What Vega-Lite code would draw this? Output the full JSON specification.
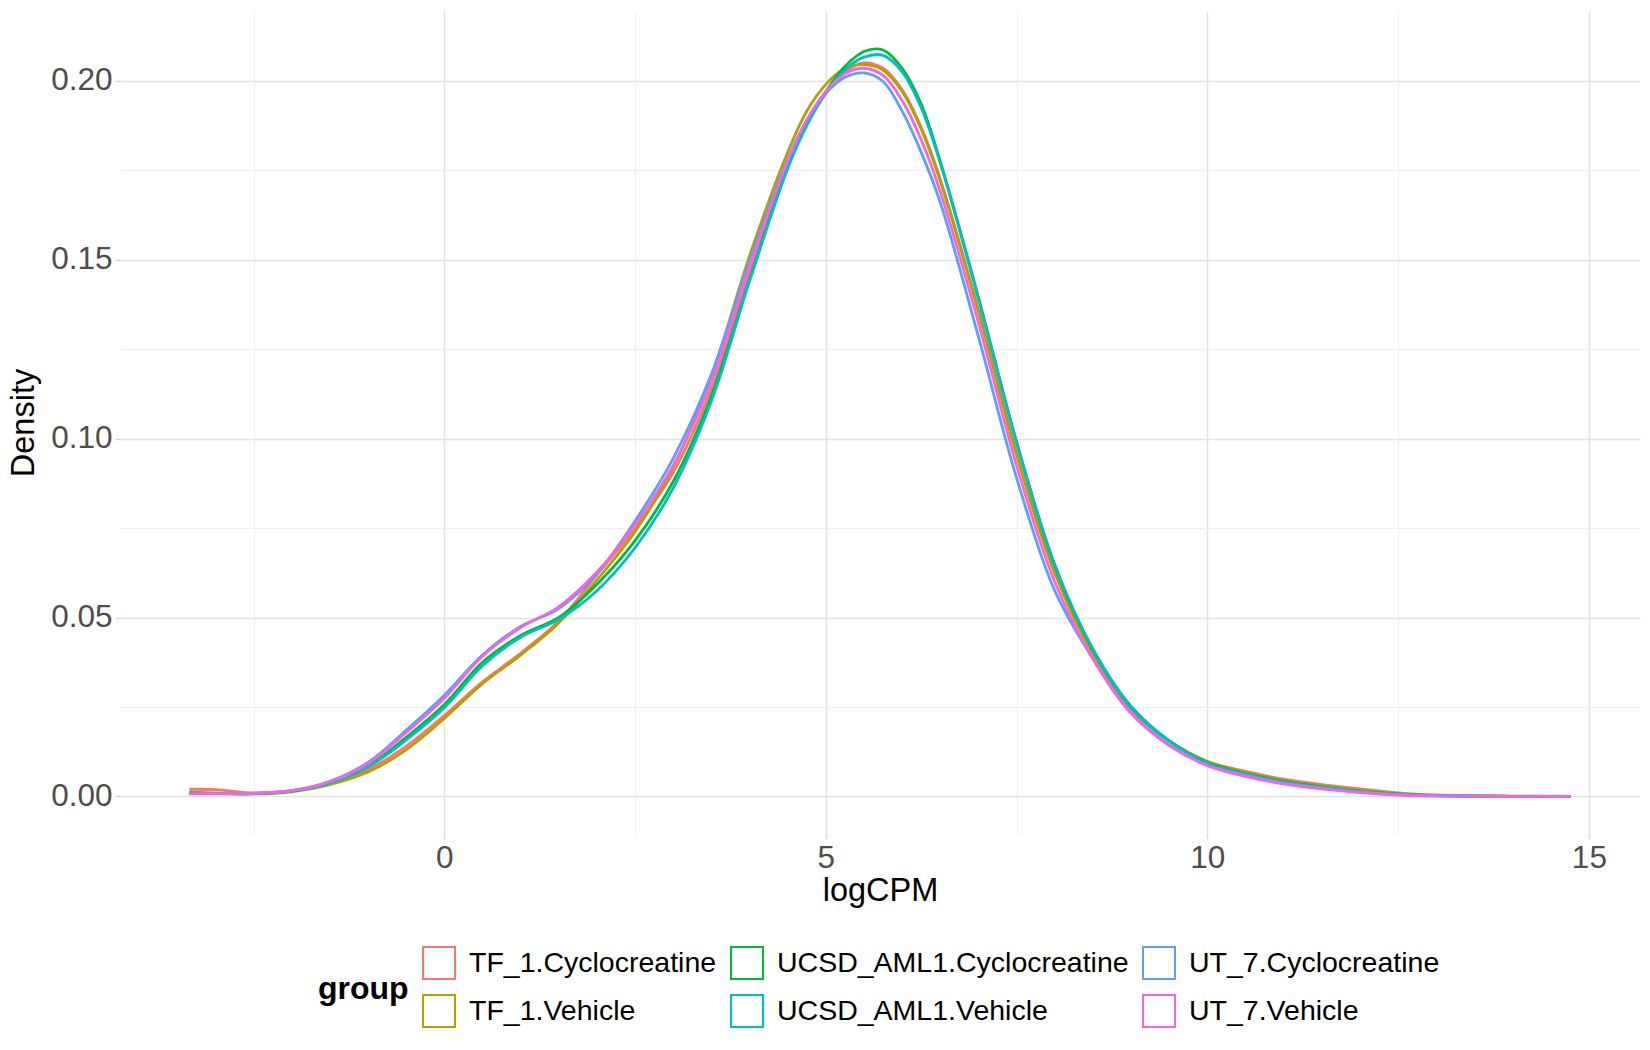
{
  "$schema": "https://vega.github.io/schema/vega-lite/v6.json",
  "width": 1520,
  "height": 823,
  "autosize": {"type": "none"},
  "padding": {"left": 120, "top": 11, "right": 10, "bottom": 216},
  "background": "white",
  "config": {
    "view": {"stroke": null},
    "font": "Liberation Sans"
  },
  "data": {
    "values": [
      {"group":"TF_1.Cyclocreatine","logCPM":-3.34,"density":0.0020},{"group":"TF_1.Cyclocreatine","logCPM":-3,"density":0.0019},{"group":"TF_1.Cyclocreatine","logCPM":-2.5,"density":0.0009},{"group":"TF_1.Cyclocreatine","logCPM":-2,"density":0.0016},{"group":"TF_1.Cyclocreatine","logCPM":-1.5,"density":0.0036},{"group":"TF_1.Cyclocreatine","logCPM":-1,"density":0.0075},{"group":"TF_1.Cyclocreatine","logCPM":-0.5,"density":0.0140},{"group":"TF_1.Cyclocreatine","logCPM":0,"density":0.0226},{"group":"TF_1.Cyclocreatine","logCPM":0.5,"density":0.0320},{"group":"TF_1.Cyclocreatine","logCPM":1,"density":0.0400},{"group":"TF_1.Cyclocreatine","logCPM":1.5,"density":0.0490},{"group":"TF_1.Cyclocreatine","logCPM":2,"density":0.0620},{"group":"TF_1.Cyclocreatine","logCPM":2.5,"density":0.0750},{"group":"TF_1.Cyclocreatine","logCPM":3,"density":0.0905},{"group":"TF_1.Cyclocreatine","logCPM":3.5,"density":0.1140},{"group":"TF_1.Cyclocreatine","logCPM":4,"density":0.1465},{"group":"TF_1.Cyclocreatine","logCPM":4.5,"density":0.1765},{"group":"TF_1.Cyclocreatine","logCPM":4.75,"density":0.1880},{"group":"TF_1.Cyclocreatine","logCPM":5,"density":0.1965},{"group":"TF_1.Cyclocreatine","logCPM":5.25,"density":0.2025},{"group":"TF_1.Cyclocreatine","logCPM":5.5,"density":0.2050},{"group":"TF_1.Cyclocreatine","logCPM":5.75,"density":0.2035},{"group":"TF_1.Cyclocreatine","logCPM":6,"density":0.1975},{"group":"TF_1.Cyclocreatine","logCPM":6.25,"density":0.1870},{"group":"TF_1.Cyclocreatine","logCPM":6.5,"density":0.1725},{"group":"TF_1.Cyclocreatine","logCPM":7,"density":0.1360},{"group":"TF_1.Cyclocreatine","logCPM":7.5,"density":0.0960},{"group":"TF_1.Cyclocreatine","logCPM":8,"density":0.0625},{"group":"TF_1.Cyclocreatine","logCPM":8.5,"density":0.0400},{"group":"TF_1.Cyclocreatine","logCPM":9,"density":0.0245},{"group":"TF_1.Cyclocreatine","logCPM":9.5,"density":0.0155},{"group":"TF_1.Cyclocreatine","logCPM":10,"density":0.0097},{"group":"TF_1.Cyclocreatine","logCPM":10.5,"density":0.0070},{"group":"TF_1.Cyclocreatine","logCPM":11,"density":0.0048},{"group":"TF_1.Cyclocreatine","logCPM":11.5,"density":0.0033},{"group":"TF_1.Cyclocreatine","logCPM":12,"density":0.0021},{"group":"TF_1.Cyclocreatine","logCPM":12.5,"density":0.0010},{"group":"TF_1.Cyclocreatine","logCPM":13,"density":0.0004},{"group":"TF_1.Cyclocreatine","logCPM":13.5,"density":0.0002},{"group":"TF_1.Cyclocreatine","logCPM":14,"density":0.0001},{"group":"TF_1.Cyclocreatine","logCPM":14.76,"density":0.0000},
      {"group":"TF_1.Vehicle","logCPM":-3.34,"density":0.0012},{"group":"TF_1.Vehicle","logCPM":-3,"density":0.0010},{"group":"TF_1.Vehicle","logCPM":-2.5,"density":0.0007},{"group":"TF_1.Vehicle","logCPM":-2,"density":0.0013},{"group":"TF_1.Vehicle","logCPM":-1.5,"density":0.0033},{"group":"TF_1.Vehicle","logCPM":-1,"density":0.0068},{"group":"TF_1.Vehicle","logCPM":-0.5,"density":0.0130},{"group":"TF_1.Vehicle","logCPM":0,"density":0.0218},{"group":"TF_1.Vehicle","logCPM":0.5,"density":0.0315},{"group":"TF_1.Vehicle","logCPM":1,"density":0.0395},{"group":"TF_1.Vehicle","logCPM":1.5,"density":0.0485},{"group":"TF_1.Vehicle","logCPM":2,"density":0.0605},{"group":"TF_1.Vehicle","logCPM":2.5,"density":0.0740},{"group":"TF_1.Vehicle","logCPM":3,"density":0.0920},{"group":"TF_1.Vehicle","logCPM":3.5,"density":0.1175},{"group":"TF_1.Vehicle","logCPM":4,"density":0.1510},{"group":"TF_1.Vehicle","logCPM":4.5,"density":0.1800},{"group":"TF_1.Vehicle","logCPM":4.75,"density":0.1915},{"group":"TF_1.Vehicle","logCPM":5,"density":0.1990},{"group":"TF_1.Vehicle","logCPM":5.25,"density":0.2035},{"group":"TF_1.Vehicle","logCPM":5.5,"density":0.2045},{"group":"TF_1.Vehicle","logCPM":5.75,"density":0.2030},{"group":"TF_1.Vehicle","logCPM":6,"density":0.1970},{"group":"TF_1.Vehicle","logCPM":6.25,"density":0.1865},{"group":"TF_1.Vehicle","logCPM":6.5,"density":0.1720},{"group":"TF_1.Vehicle","logCPM":7,"density":0.1355},{"group":"TF_1.Vehicle","logCPM":7.5,"density":0.0955},{"group":"TF_1.Vehicle","logCPM":8,"density":0.0625},{"group":"TF_1.Vehicle","logCPM":8.5,"density":0.0400},{"group":"TF_1.Vehicle","logCPM":9,"density":0.0248},{"group":"TF_1.Vehicle","logCPM":9.5,"density":0.0155},{"group":"TF_1.Vehicle","logCPM":10,"density":0.0098},{"group":"TF_1.Vehicle","logCPM":10.5,"density":0.0068},{"group":"TF_1.Vehicle","logCPM":11,"density":0.0045},{"group":"TF_1.Vehicle","logCPM":11.5,"density":0.0030},{"group":"TF_1.Vehicle","logCPM":12,"density":0.0018},{"group":"TF_1.Vehicle","logCPM":12.5,"density":0.0008},{"group":"TF_1.Vehicle","logCPM":13,"density":0.0003},{"group":"TF_1.Vehicle","logCPM":13.5,"density":0.0001},{"group":"TF_1.Vehicle","logCPM":14,"density":0.0000},{"group":"TF_1.Vehicle","logCPM":14.76,"density":0.0000},
      {"group":"UCSD_AML1.Cyclocreatine","logCPM":-3.34,"density":0.0010},{"group":"UCSD_AML1.Cyclocreatine","logCPM":-3,"density":0.0008},{"group":"UCSD_AML1.Cyclocreatine","logCPM":-2.5,"density":0.0008},{"group":"UCSD_AML1.Cyclocreatine","logCPM":-2,"density":0.0015},{"group":"UCSD_AML1.Cyclocreatine","logCPM":-1.5,"density":0.0038},{"group":"UCSD_AML1.Cyclocreatine","logCPM":-1,"density":0.0085},{"group":"UCSD_AML1.Cyclocreatine","logCPM":-0.5,"density":0.0165},{"group":"UCSD_AML1.Cyclocreatine","logCPM":0,"density":0.0257},{"group":"UCSD_AML1.Cyclocreatine","logCPM":0.5,"density":0.0375},{"group":"UCSD_AML1.Cyclocreatine","logCPM":1,"density":0.0450},{"group":"UCSD_AML1.Cyclocreatine","logCPM":1.5,"density":0.0500},{"group":"UCSD_AML1.Cyclocreatine","logCPM":2,"density":0.0593},{"group":"UCSD_AML1.Cyclocreatine","logCPM":2.5,"density":0.0715},{"group":"UCSD_AML1.Cyclocreatine","logCPM":3,"density":0.0880},{"group":"UCSD_AML1.Cyclocreatine","logCPM":3.5,"density":0.1120},{"group":"UCSD_AML1.Cyclocreatine","logCPM":4,"density":0.1445},{"group":"UCSD_AML1.Cyclocreatine","logCPM":4.5,"density":0.1760},{"group":"UCSD_AML1.Cyclocreatine","logCPM":4.75,"density":0.1880},{"group":"UCSD_AML1.Cyclocreatine","logCPM":5,"density":0.1970},{"group":"UCSD_AML1.Cyclocreatine","logCPM":5.25,"density":0.2040},{"group":"UCSD_AML1.Cyclocreatine","logCPM":5.5,"density":0.2082},{"group":"UCSD_AML1.Cyclocreatine","logCPM":5.75,"density":0.2086},{"group":"UCSD_AML1.Cyclocreatine","logCPM":6,"density":0.2035},{"group":"UCSD_AML1.Cyclocreatine","logCPM":6.25,"density":0.1935},{"group":"UCSD_AML1.Cyclocreatine","logCPM":6.5,"density":0.1775},{"group":"UCSD_AML1.Cyclocreatine","logCPM":7,"density":0.1395},{"group":"UCSD_AML1.Cyclocreatine","logCPM":7.5,"density":0.0990},{"group":"UCSD_AML1.Cyclocreatine","logCPM":8,"density":0.0645},{"group":"UCSD_AML1.Cyclocreatine","logCPM":8.5,"density":0.0410},{"group":"UCSD_AML1.Cyclocreatine","logCPM":9,"density":0.0250},{"group":"UCSD_AML1.Cyclocreatine","logCPM":9.5,"density":0.0155},{"group":"UCSD_AML1.Cyclocreatine","logCPM":10,"density":0.0095},{"group":"UCSD_AML1.Cyclocreatine","logCPM":10.5,"density":0.0064},{"group":"UCSD_AML1.Cyclocreatine","logCPM":11,"density":0.0042},{"group":"UCSD_AML1.Cyclocreatine","logCPM":11.5,"density":0.0027},{"group":"UCSD_AML1.Cyclocreatine","logCPM":12,"density":0.0015},{"group":"UCSD_AML1.Cyclocreatine","logCPM":12.5,"density":0.0007},{"group":"UCSD_AML1.Cyclocreatine","logCPM":13,"density":0.0002},{"group":"UCSD_AML1.Cyclocreatine","logCPM":13.5,"density":0.0001},{"group":"UCSD_AML1.Cyclocreatine","logCPM":14,"density":0.0000},{"group":"UCSD_AML1.Cyclocreatine","logCPM":14.76,"density":0.0000},
      {"group":"UCSD_AML1.Vehicle","logCPM":-3.34,"density":0.0009},{"group":"UCSD_AML1.Vehicle","logCPM":-3,"density":0.0008},{"group":"UCSD_AML1.Vehicle","logCPM":-2.5,"density":0.0008},{"group":"UCSD_AML1.Vehicle","logCPM":-2,"density":0.0015},{"group":"UCSD_AML1.Vehicle","logCPM":-1.5,"density":0.0037},{"group":"UCSD_AML1.Vehicle","logCPM":-1,"density":0.0082},{"group":"UCSD_AML1.Vehicle","logCPM":-0.5,"density":0.0158},{"group":"UCSD_AML1.Vehicle","logCPM":0,"density":0.0248},{"group":"UCSD_AML1.Vehicle","logCPM":0.5,"density":0.0365},{"group":"UCSD_AML1.Vehicle","logCPM":1,"density":0.0445},{"group":"UCSD_AML1.Vehicle","logCPM":1.5,"density":0.0495},{"group":"UCSD_AML1.Vehicle","logCPM":2,"density":0.0575},{"group":"UCSD_AML1.Vehicle","logCPM":2.5,"density":0.0695},{"group":"UCSD_AML1.Vehicle","logCPM":3,"density":0.0862},{"group":"UCSD_AML1.Vehicle","logCPM":3.5,"density":0.1105},{"group":"UCSD_AML1.Vehicle","logCPM":4,"density":0.1440},{"group":"UCSD_AML1.Vehicle","logCPM":4.5,"density":0.1755},{"group":"UCSD_AML1.Vehicle","logCPM":4.75,"density":0.1875},{"group":"UCSD_AML1.Vehicle","logCPM":5,"density":0.1965},{"group":"UCSD_AML1.Vehicle","logCPM":5.25,"density":0.2030},{"group":"UCSD_AML1.Vehicle","logCPM":5.5,"density":0.2066},{"group":"UCSD_AML1.Vehicle","logCPM":5.75,"density":0.2071},{"group":"UCSD_AML1.Vehicle","logCPM":6,"density":0.2025},{"group":"UCSD_AML1.Vehicle","logCPM":6.25,"density":0.1925},{"group":"UCSD_AML1.Vehicle","logCPM":6.5,"density":0.1770},{"group":"UCSD_AML1.Vehicle","logCPM":7,"density":0.1390},{"group":"UCSD_AML1.Vehicle","logCPM":7.5,"density":0.0990},{"group":"UCSD_AML1.Vehicle","logCPM":8,"density":0.0648},{"group":"UCSD_AML1.Vehicle","logCPM":8.5,"density":0.0412},{"group":"UCSD_AML1.Vehicle","logCPM":9,"density":0.0252},{"group":"UCSD_AML1.Vehicle","logCPM":9.5,"density":0.0155},{"group":"UCSD_AML1.Vehicle","logCPM":10,"density":0.0093},{"group":"UCSD_AML1.Vehicle","logCPM":10.5,"density":0.0062},{"group":"UCSD_AML1.Vehicle","logCPM":11,"density":0.0040},{"group":"UCSD_AML1.Vehicle","logCPM":11.5,"density":0.0025},{"group":"UCSD_AML1.Vehicle","logCPM":12,"density":0.0014},{"group":"UCSD_AML1.Vehicle","logCPM":12.5,"density":0.0006},{"group":"UCSD_AML1.Vehicle","logCPM":13,"density":0.0002},{"group":"UCSD_AML1.Vehicle","logCPM":13.5,"density":0.0001},{"group":"UCSD_AML1.Vehicle","logCPM":14,"density":0.0000},{"group":"UCSD_AML1.Vehicle","logCPM":14.76,"density":0.0000},
      {"group":"UT_7.Cyclocreatine","logCPM":-3.34,"density":0.0010},{"group":"UT_7.Cyclocreatine","logCPM":-3,"density":0.0008},{"group":"UT_7.Cyclocreatine","logCPM":-2.5,"density":0.0009},{"group":"UT_7.Cyclocreatine","logCPM":-2,"density":0.0016},{"group":"UT_7.Cyclocreatine","logCPM":-1.5,"density":0.0042},{"group":"UT_7.Cyclocreatine","logCPM":-1,"density":0.0095},{"group":"UT_7.Cyclocreatine","logCPM":-0.5,"density":0.0185},{"group":"UT_7.Cyclocreatine","logCPM":0,"density":0.0283},{"group":"UT_7.Cyclocreatine","logCPM":0.5,"density":0.0395},{"group":"UT_7.Cyclocreatine","logCPM":1,"density":0.0475},{"group":"UT_7.Cyclocreatine","logCPM":1.5,"density":0.0525},{"group":"UT_7.Cyclocreatine","logCPM":2,"density":0.0622},{"group":"UT_7.Cyclocreatine","logCPM":2.5,"density":0.0770},{"group":"UT_7.Cyclocreatine","logCPM":3,"density":0.0945},{"group":"UT_7.Cyclocreatine","logCPM":3.5,"density":0.1180},{"group":"UT_7.Cyclocreatine","logCPM":4,"density":0.1495},{"group":"UT_7.Cyclocreatine","logCPM":4.5,"density":0.1780},{"group":"UT_7.Cyclocreatine","logCPM":4.75,"density":0.1890},{"group":"UT_7.Cyclocreatine","logCPM":5,"density":0.1965},{"group":"UT_7.Cyclocreatine","logCPM":5.25,"density":0.2010},{"group":"UT_7.Cyclocreatine","logCPM":5.5,"density":0.2022},{"group":"UT_7.Cyclocreatine","logCPM":5.75,"density":0.1998},{"group":"UT_7.Cyclocreatine","logCPM":6,"density":0.1915},{"group":"UT_7.Cyclocreatine","logCPM":6.25,"density":0.1800},{"group":"UT_7.Cyclocreatine","logCPM":6.5,"density":0.1660},{"group":"UT_7.Cyclocreatine","logCPM":7,"density":0.1285},{"group":"UT_7.Cyclocreatine","logCPM":7.5,"density":0.0890},{"group":"UT_7.Cyclocreatine","logCPM":8,"density":0.0575},{"group":"UT_7.Cyclocreatine","logCPM":8.5,"density":0.0385},{"group":"UT_7.Cyclocreatine","logCPM":9,"density":0.0235},{"group":"UT_7.Cyclocreatine","logCPM":9.5,"density":0.0145},{"group":"UT_7.Cyclocreatine","logCPM":10,"density":0.0088},{"group":"UT_7.Cyclocreatine","logCPM":10.5,"density":0.0060},{"group":"UT_7.Cyclocreatine","logCPM":11,"density":0.0038},{"group":"UT_7.Cyclocreatine","logCPM":11.5,"density":0.0024},{"group":"UT_7.Cyclocreatine","logCPM":12,"density":0.0012},{"group":"UT_7.Cyclocreatine","logCPM":12.5,"density":0.0005},{"group":"UT_7.Cyclocreatine","logCPM":13,"density":0.0002},{"group":"UT_7.Cyclocreatine","logCPM":13.5,"density":0.0001},{"group":"UT_7.Cyclocreatine","logCPM":14,"density":0.0000},{"group":"UT_7.Cyclocreatine","logCPM":14.76,"density":0.0000},
      {"group":"UT_7.Vehicle","logCPM":-3.34,"density":0.0007},{"group":"UT_7.Vehicle","logCPM":-3,"density":0.0007},{"group":"UT_7.Vehicle","logCPM":-2.5,"density":0.0009},{"group":"UT_7.Vehicle","logCPM":-2,"density":0.0016},{"group":"UT_7.Vehicle","logCPM":-1.5,"density":0.0041},{"group":"UT_7.Vehicle","logCPM":-1,"density":0.0092},{"group":"UT_7.Vehicle","logCPM":-0.5,"density":0.0178},{"group":"UT_7.Vehicle","logCPM":0,"density":0.0274},{"group":"UT_7.Vehicle","logCPM":0.5,"density":0.0392},{"group":"UT_7.Vehicle","logCPM":1,"density":0.0472},{"group":"UT_7.Vehicle","logCPM":1.5,"density":0.0530},{"group":"UT_7.Vehicle","logCPM":2,"density":0.0627},{"group":"UT_7.Vehicle","logCPM":2.5,"density":0.0760},{"group":"UT_7.Vehicle","logCPM":3,"density":0.0925},{"group":"UT_7.Vehicle","logCPM":3.5,"density":0.1160},{"group":"UT_7.Vehicle","logCPM":4,"density":0.1480},{"group":"UT_7.Vehicle","logCPM":4.5,"density":0.1775},{"group":"UT_7.Vehicle","logCPM":4.75,"density":0.1890},{"group":"UT_7.Vehicle","logCPM":5,"density":0.1970},{"group":"UT_7.Vehicle","logCPM":5.25,"density":0.2020},{"group":"UT_7.Vehicle","logCPM":5.5,"density":0.2035},{"group":"UT_7.Vehicle","logCPM":5.75,"density":0.2015},{"group":"UT_7.Vehicle","logCPM":6,"density":0.1945},{"group":"UT_7.Vehicle","logCPM":6.25,"density":0.1835},{"group":"UT_7.Vehicle","logCPM":6.5,"density":0.1690},{"group":"UT_7.Vehicle","logCPM":7,"density":0.1325},{"group":"UT_7.Vehicle","logCPM":7.5,"density":0.0925},{"group":"UT_7.Vehicle","logCPM":8,"density":0.0600},{"group":"UT_7.Vehicle","logCPM":8.5,"density":0.0385},{"group":"UT_7.Vehicle","logCPM":9,"density":0.0232},{"group":"UT_7.Vehicle","logCPM":9.5,"density":0.0142},{"group":"UT_7.Vehicle","logCPM":10,"density":0.0086},{"group":"UT_7.Vehicle","logCPM":10.5,"density":0.0056},{"group":"UT_7.Vehicle","logCPM":11,"density":0.0035},{"group":"UT_7.Vehicle","logCPM":11.5,"density":0.0021},{"group":"UT_7.Vehicle","logCPM":12,"density":0.0011},{"group":"UT_7.Vehicle","logCPM":12.5,"density":0.0004},{"group":"UT_7.Vehicle","logCPM":13,"density":0.0001},{"group":"UT_7.Vehicle","logCPM":13.5,"density":0.0001},{"group":"UT_7.Vehicle","logCPM":14,"density":0.0000},{"group":"UT_7.Vehicle","logCPM":14.76,"density":0.0000}
    ]
  },
  "mark": {"type": "line", "interpolate": "catmull-rom", "strokeWidth": 2.8},
  "encoding": {
    "x": {
      "field": "logCPM",
      "type": "quantitative",
      "title": "logCPM",
      "scale": {"domain": [-4.25, 15.67], "nice": false, "zero": false},
      "axis": {
        "values": [-2.5, 0, 2.5, 5, 7.5, 10, 12.5, 15],
        "labelExpr": "datum.value % 5 == 0 ? format(datum.value, 'd') : ''",
        "domain": false,
        "grid": true,
        "gridColor": {"condition": {"test": "datum.value % 5 == 0", "value": "#E3E3E3"}, "value": "#EFEFEF"},
        "gridWidth": {"condition": {"test": "datum.value % 5 == 0", "value": 1.6}, "value": 1},
        "ticks": true,
        "tickSize": 5,
        "tickColor": "#D6D6D6",
        "tickWidth": 1.5,
        "tickOpacity": {"condition": {"test": "datum.value % 5 == 0", "value": 1}, "value": 0},
        "labelFont": "Liberation Sans",
        "labelFontSize": 31.5,
        "labelColor": "#4D4D4D",
        "labelBaseline": "alphabetic",
        "labelPadding": 28,
        "labelFlush": false,
        "titleFont": "Liberation Sans",
        "titleFontSize": 32.5,
        "titleFontWeight": "normal",
        "titleColor": "black",
        "titleBaseline": "alphabetic",
        "titleY": 66
      }
    },
    "y": {
      "field": "density",
      "type": "quantitative",
      "title": "Density",
      "scale": {"domain": [-0.0105, 0.2195], "nice": false, "zero": false},
      "axis": {
        "values": [0, 0.025, 0.05, 0.075, 0.1, 0.125, 0.15, 0.175, 0.2],
        "labelExpr": "round(datum.value * 1000) % 50 == 0 ? format(datum.value, '.2f') : ''",
        "domain": false,
        "grid": true,
        "gridColor": {"condition": {"test": "round(datum.value * 1000) % 50 == 0", "value": "#E3E3E3"}, "value": "#EFEFEF"},
        "gridWidth": {"condition": {"test": "round(datum.value * 1000) % 50 == 0", "value": 1.6}, "value": 1},
        "ticks": true,
        "tickSize": 5,
        "tickColor": "#D6D6D6",
        "tickWidth": 1.5,
        "tickOpacity": {"condition": {"test": "round(datum.value * 1000) % 50 == 0", "value": 1}, "value": 0},
        "labelFont": "Liberation Sans",
        "labelFontSize": 31.5,
        "labelColor": "#4D4D4D",
        "labelPadding": 3,
        "labelFlush": false,
        "titleFont": "Liberation Sans",
        "titleFontSize": 32.5,
        "titleFontWeight": "normal",
        "titleColor": "black",
        "titleBaseline": "alphabetic",
        "titleX": -87
      }
    },
    "color": {
      "field": "group",
      "type": "nominal",
      "scale": {
        "domain": ["TF_1.Cyclocreatine", "UCSD_AML1.Cyclocreatine", "UT_7.Cyclocreatine", "TF_1.Vehicle", "UCSD_AML1.Vehicle", "UT_7.Vehicle"],
        "range": ["#F8766D", "#00BA38", "#619CFF", "#B79F00", "#00BFC4", "#F564E3"]
      },
      "legend": {
        "title": "group",
        "orient": "none",
        "legendX": 198,
        "legendY": 935,
        "direction": "horizontal",
        "columns": 3,
        "columnPadding": 10,
        "rowPadding": 8,
        "padding": 0,
        "symbolType": "square",
        "symbolSize": 1024,
        "symbolStrokeWidth": 2,
        "symbolFillColor": "white",
        "labelFont": "Liberation Sans",
        "labelFontSize": 28.5,
        "labelColor": "black",
        "labelOffset": 13,
        "labelLimit": 0,
        "titleOrient": "left",
        "titleAnchor": "middle",
        "titleBaseline": "middle",
        "titleFont": "Liberation Sans",
        "titleFontSize": 32,
        "titleFontWeight": "bold",
        "titleColor": "black",
        "titlePadding": 13
      }
    }
  }
}
